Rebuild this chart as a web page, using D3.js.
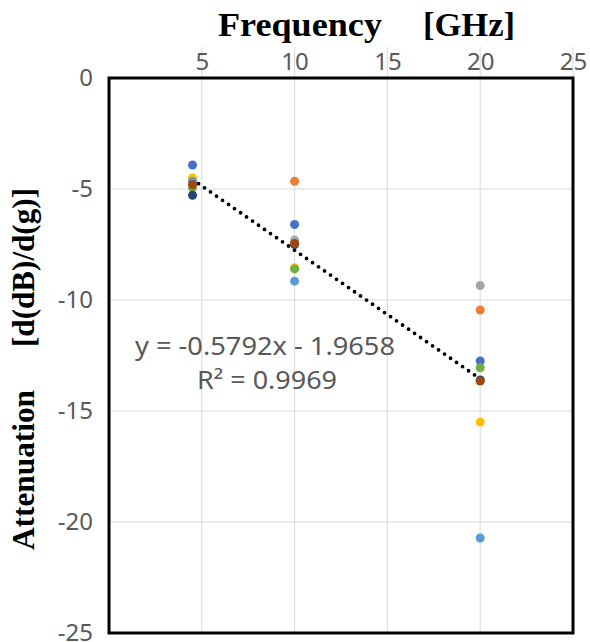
<!DOCTYPE html>
<html>
<head>
<meta charset="utf-8">
<script src="https://cdn.jsdelivr.net/npm/d3@7"></script>
<style>
  html, body { margin: 0; padding: 0; background: #fff; }
  svg { display: block; }
</style>
</head>
<body>
<div id="chart"></div>
<script>
// ---------- data ----------
const frequencies = [4.5, 10, 20];
const seriesNames = ["S1", "S2", "S3", "S4", "S5", "S6", "S7", "S8"];
const s1 = [-3.92, -6.6, -12.75];
const s2 = [-4.6, -4.65, -10.45];
const s3 = [-4.55, -7.3, -9.35];
const s4 = [-4.5, -8.55, -15.5];
const s5 = [-4.65, -9.15, -20.72];
const s6 = [-4.95, -8.6, -13.05];
const s7 = [-5.28, -7.5, -13.6];
const s8 = [-4.8, -7.45, -13.65];
const seriesValues = [s1, s2, s3, s4, s5, s6, s7, s8];
const xTickValues = [5, 10, 15, 20, 25];
const yTickValues = [0, -5, -10, -15, -20, -25];
const trendSlope = -0.5792;
const trendIntercept = -1.9658;
const equationText = "y = -0.5792x - 1.9658";
const r2Text = "R² = 0.9969";
const xTitleParts = ["Frequency", "[GHz]"];
const yTitleParts = ["Attenuation", "[d(dB)/d(g)]"];

// ---------- styles ----------
const colors = ["#4472C4", "#ED7D31", "#A5A5A5", "#FFC000", "#5B9BD5", "#70AD47", "#264478", "#9E480E"];

const W = 590, H = 642;
const svg = d3.select("#chart").append("svg").attr("width", W).attr("height", H);
svg.append("rect").attr("width", W).attr("height", H).attr("fill", "#fff");

const x = d3.scaleLinear().domain([0, 25]).range([109, 573]);
const y = d3.scaleLinear().domain([0, -25]).range([78, 633]);

// gridlines
svg.append("g").selectAll("line").data(xTickValues).join("line")
  .attr("x1", d => x(d)).attr("x2", d => x(d))
  .attr("y1", 47).attr("y2", y(-25))
  .attr("stroke", "#D9D9D9").attr("stroke-width", 1);
svg.append("g").selectAll("line").data(yTickValues.filter(v => v !== 0 && v !== -25)).join("line")
  .attr("x1", x(0)).attr("x2", x(25))
  .attr("y1", d => y(d)).attr("y2", d => y(d))
  .attr("stroke", "#D9D9D9").attr("stroke-width", 1);

// axes (labels only)
const fontTick = "'Noto Sans', 'Open Sans', sans-serif";
const fmt = d => String(d);
const gx = svg.append("g").attr("transform", `translate(0,${y(0)})`)
  .call(d3.axisTop(x).tickValues(xTickValues).tickSize(0).tickPadding(8).tickFormat(fmt));
gx.select(".domain").remove();
gx.selectAll("text").attr("font-family", fontTick).attr("font-size", 24).attr("fill", "#595959");

const gy = svg.append("g").attr("transform", `translate(${x(0)},0)`)
  .call(d3.axisLeft(y).tickValues(yTickValues).tickSize(0).tickPadding(16).tickFormat(fmt));
gy.select(".domain").remove();
gy.selectAll("text").attr("font-family", fontTick).attr("font-size", 24).attr("fill", "#595959")
  .attr("dy", "0.3em");

// trendline
const tExt = d3.extent(frequencies);
svg.append("line")
  .attr("x1", x(tExt[0])).attr("y1", y(trendSlope * tExt[0] + trendIntercept))
  .attr("x2", x(tExt[1])).attr("y2", y(trendSlope * tExt[1] + trendIntercept))
  .attr("stroke", "#000").attr("stroke-width", 3.8)
  .attr("stroke-linecap", "round").attr("stroke-dasharray", "0 7.3");

// points
seriesValues.forEach((vals, i) => {
  svg.append("g").selectAll("circle").data(vals).join("circle")
    .attr("cx", (d, j) => x(frequencies[j]))
    .attr("cy", d => y(d))
    .attr("r", 4.5)
    .attr("fill", colors[i]);
});

// frame
svg.append("rect")
  .attr("x", x(0)).attr("y", y(0))
  .attr("width", x(25) - x(0)).attr("height", y(-25) - y(0))
  .attr("fill", "none").attr("stroke", "#000").attr("stroke-width", 3);

// equation
svg.append("text").attr("x", 135).attr("y", 355)
  .attr("font-family", fontTick).attr("font-size", 25).attr("fill", "#595959")
  .attr("textLength", 260).attr("lengthAdjust", "spacingAndGlyphs")
  .text(equationText);
svg.append("text").attr("x", 197).attr("y", 389)
  .attr("font-family", fontTick).attr("font-size", 25).attr("fill", "#595959")
  .attr("textLength", 140).attr("lengthAdjust", "spacingAndGlyphs")
  .text(r2Text);

// titles
const fontTitle = "'Liberation Serif', 'DejaVu Serif', serif";
svg.append("text").attr("x", 218).attr("y", 36)
  .attr("font-family", fontTitle).attr("font-weight", "bold").attr("font-size", 33).attr("fill", "#000")
  .attr("textLength", 164).attr("lengthAdjust", "spacingAndGlyphs")
  .text(xTitleParts[0]);
svg.append("text").attr("x", 423).attr("y", 36)
  .attr("font-family", fontTitle).attr("font-weight", "bold").attr("font-size", 33).attr("fill", "#000")
  .attr("textLength", 92).attr("lengthAdjust", "spacingAndGlyphs")
  .text(xTitleParts[1]);

svg.append("text").attr("transform", "translate(34,550) rotate(-90)")
  .attr("font-family", fontTitle).attr("font-weight", "bold").attr("font-size", 32).attr("fill", "#000")
  .attr("textLength", 160).attr("lengthAdjust", "spacingAndGlyphs")
  .text(yTitleParts[0]);
svg.append("text").attr("transform", "translate(34,347) rotate(-90)")
  .attr("font-family", fontTitle).attr("font-weight", "bold").attr("font-size", 32).attr("fill", "#000")
  .attr("textLength", 159).attr("lengthAdjust", "spacingAndGlyphs")
  .text(yTitleParts[1]);
</script>
</body>
</html>
